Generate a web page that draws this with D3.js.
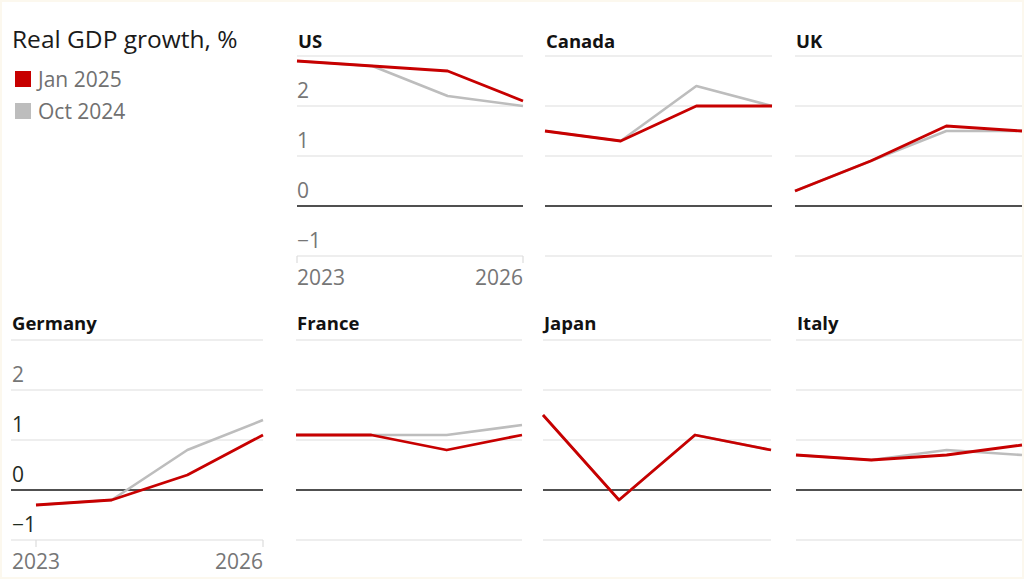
<!DOCTYPE html>
<html>
<head>
<meta charset="utf-8">
<script src="https://cdn.jsdelivr.net/npm/d3@7"></script>
<style>
  html, body { margin: 0; padding: 0; background: #fff; }
  svg { display: block; }
  text { font-family: "Open Sans", "Noto Sans", sans-serif; }
</style>
</head>
<body>
<svg id="chart" width="1024" height="579"></svg>
<script>
// ---- data ----
const years = [2023, 2024, 2025, 2026];
const countries = ["US", "Canada", "UK", "Germany", "France", "Japan", "Italy"];
const jan2025 = {
  US:      [2.9, 2.8, 2.7, 2.1],
  Canada:  [1.5, 1.3, 2.0, 2.0],
  UK:      [0.3, 0.9, 1.6, 1.5],
  Germany: [-0.3, -0.2, 0.3, 1.1],
  France:  [1.1, 1.1, 0.8, 1.1],
  Japan:   [1.5, -0.2, 1.1, 0.8],
  Italy:   [0.7, 0.6, 0.7, 0.9]
};
const oct2024 = {
  US:      [2.9, 2.8, 2.2, 2.0],
  Canada:  [1.5, 1.3, 2.4, 2.0],
  UK:      [0.3, 0.9, 1.5, 1.5],
  Germany: [-0.3, -0.2, 0.8, 1.4],
  France:  [1.1, 1.1, 1.1, 1.3],
  Japan:   [1.5, -0.2, 1.1, 0.8],
  Italy:   [0.7, 0.6, 0.8, 0.7]
};
const yTicks = [-1, 0, 1, 2, 3];
const yTickLabels = ["\u22121", "0", "1", "2"];
const xTickLabels = ["2023", "2026"];
const seriesNames = ["Jan 2025", "Oct 2024"];
const title = "Real GDP growth, %";

// ---- layout ----
const RED = "#c70000", GREY = "#bdbdbd";
const svg = d3.select("#chart");

// faint cream frame like reference
svg.append("rect").attr("x", 0).attr("y", 0).attr("width", 1024).attr("height", 579)
  .attr("fill", "#fff").attr("stroke", "#fcf8ee").attr("stroke-width", 4);

const panels = {
  US:      {gx0: 297, px0: 297, px1: 523, row: 0, yAxis: true,  xAxis: true},
  Canada:  {gx0: 545, px0: 545, px1: 772, row: 0},
  UK:      {gx0: 795, px0: 795, px1: 1022, row: 0},
  Germany: {gx0: 11,  px0: 36,  px1: 263, row: 1, yAxis: true, xAxis: true, lx: 12},
  France:  {gx0: 296, px0: 296, px1: 522, row: 1},
  Japan:   {gx0: 543, px0: 543, px1: 771, row: 1},
  Italy:   {gx0: 796, px0: 796, px1: 1022, row: 1}
};
const rows = [{top: 56, bottom: 256, titleY: 48}, {top: 340, bottom: 540, titleY: 330}];

// title + legend
svg.append("text").attr("x", 12).attr("y", 48).text(title)
  .attr("font-size", 24.5).attr("fill", "#1a1a1a");
const legColors = [RED, GREY];
seriesNames.forEach((s, i) => {
  const y0 = 71 + i * 32;
  svg.append("rect").attr("x", 15).attr("y", y0).attr("width", 16).attr("height", 16).attr("fill", legColors[i]);
  svg.append("text").attr("x", 38).attr("y", y0 + 16).text(s)
    .attr("font-size", 21).attr("fill", "#707070");
});

countries.forEach(c => {
  const p = panels[c];
  const r = rows[p.row];
  const x = d3.scaleLinear().domain([years[0], years[years.length - 1]]).range([p.px0, p.px1]);
  const y = d3.scaleLinear().domain([-1, 3]).range([r.bottom, r.top]);
  const g = svg.append("g");

  // gridlines
  g.selectAll("line.grid").data(yTicks).join("line")
    .attr("x1", p.gx0).attr("x2", p.px1)
    .attr("y1", d => y(d)).attr("y2", d => y(d))
    .attr("stroke", d => d === 0 ? "#505050" : "#dedede")
    .attr("stroke-width", d => d === 0 ? 2 : 1.2);

  // title
  g.append("text").attr("x", p.gx0 + 1).attr("y", r.titleY).text(c)
    .attr("font-size", 18.5).attr("font-weight", 700).attr("fill", "#121212");

  // y tick labels
  if (p.yAxis) {
    const lx = p.lx !== undefined ? p.lx : p.gx0;
    const tickVals = [-1, 0, 1, 2];
    g.selectAll("text.yt").data(tickVals).join("text")
      .attr("x", lx).attr("y", d => y(d) - 8)
      .text((d, i) => yTickLabels[i])
      .attr("font-size", 21)
      .attr("fill", d => (c === "Germany" && d < 2) ? "#1f2b1f" : "#767676");
  }
  // x axis ticks
  if (p.xAxis) {
    const ends = [years[0], years[years.length - 1]];
    g.selectAll("line.xt").data(ends).join("line")
      .attr("x1", d => x(d)).attr("x2", d => x(d))
      .attr("y1", r.bottom).attr("y2", r.bottom + 7)
      .attr("stroke", "#dcdcdc").attr("stroke-width", 1.2);
    g.selectAll("text.xt").data(ends).join("text")
      .attr("x", (d, i) => i === 0 ? (p.lx !== undefined ? p.lx : x(d)) : x(d))
      .attr("y", r.bottom + 29)
      .attr("text-anchor", (d, i) => i === 0 ? "start" : "end")
      .text((d, i) => xTickLabels[i])
      .attr("font-size", 21).attr("fill", "#767676");
  }

  const line = d3.line().x((d, i) => x(years[i])).y(d => y(d));
  g.append("path").attr("d", line(oct2024[c])).attr("fill", "none")
    .attr("stroke", GREY).attr("stroke-width", 2.6).attr("stroke-linejoin", "round");
  g.append("path").attr("d", line(jan2025[c])).attr("fill", "none")
    .attr("stroke", RED).attr("stroke-width", 2.8).attr("stroke-linejoin", "round");
});
</script>
</body>
</html>
